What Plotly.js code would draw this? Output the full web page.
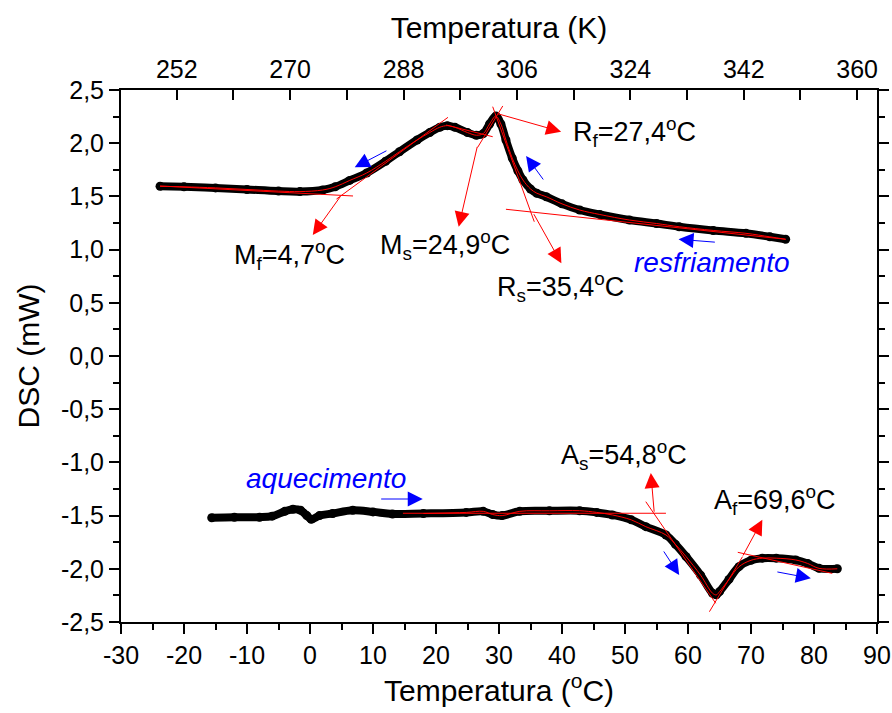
<!DOCTYPE html>
<html>
<head>
<meta charset="utf-8">
<script src="https://cdn.plot.ly/plotly-3.0.1.min.js"></script>
<style>html,body{margin:0;padding:0;background:#fff;}#chart{width:892px;height:713px;}</style>
</head>
<body>
<div id="chart"></div>
<script>
// Cooling curve (resfriamento), temperature in °C and DSC in mW
const coolT = [-23.8,-20,-15,-10,-5,-1.6,2,4,6.3,9,12,14.2,17,19,20.6,21.8,23,25,26.4,27.5,28.5,29.5,30.3,31.1,32.1,33,33.8,35,36,37.5,40,42.8,46,50.7,55,58.6,64,69.2,73,75.5];
const coolV = [1.595,1.59,1.58,1.565,1.55,1.545,1.56,1.59,1.65,1.72,1.83,1.92,2.03,2.10,2.15,2.165,2.15,2.10,2.075,2.09,2.18,2.255,2.18,2.03,1.86,1.74,1.654,1.57,1.53,1.497,1.43,1.372,1.33,1.278,1.245,1.215,1.18,1.153,1.12,1.097];
// Heating curve (aquecimento)
const heatT = [-15.6,-12,-8,-6,-4,-2.7,-1.5,-0.5,0.2,1.5,3.6,6.8,10,13.1,18,24.8,27.5,29,30.5,33.3,38,42.8,45.5,48,51,53.3,56.5,58,59.7,62,63.9,64.5,65,66.5,68.1,70,71.8,74,77.1,79,80.8,83.7];
const heatV = [-1.52,-1.515,-1.515,-1.505,-1.46,-1.44,-1.45,-1.50,-1.535,-1.50,-1.48,-1.45,-1.465,-1.485,-1.48,-1.47,-1.46,-1.49,-1.50,-1.46,-1.455,-1.454,-1.47,-1.494,-1.54,-1.604,-1.682,-1.77,-1.886,-2.06,-2.23,-2.245,-2.215,-2.10,-1.98,-1.92,-1.90,-1.90,-1.917,-1.95,-1.996,-2.0];
const heatFitStart = 14;

// Bottom axis ticks (°C)
const cTickVals = [-30,-20,-10,0,10,20,30,40,50,60,70,80,90];
const cTickText = ['-30','-20','-10','0','10','20','30','40','50','60','70','80','90'];
// Left axis ticks (mW)
const yTickVals = [-2.5,-2,-1.5,-1,-0.5,0,0.5,1,1.5,2,2.5];
const yTickText = ['-2,5','-2,0','-1,5','-1,0','-0,5','0,0','0,5','1,0','1,5','2,0','2,5'];
// Top axis ticks (K)
const kTickVals = [252,261,270,279,288,297,306,315,324,333,342,351,360];
const kTickText = ['252','','270','','288','','306','','324','','342','','360'];

// Tangent construction lines [T1, V1, T2, V2]
const tangents = [
  [-23.8,1.598,6.83,1.504],
  [4.2,1.475,21.9,2.243],
  [21.6,2.171,29.0,2.061],
  [26.6,1.96,30.6,2.35],
  [29.0,2.343,35.6,1.262],
  [31.1,1.379,75.5,1.097],
  [14.75,-1.478,56.5,-1.478],
  [53.3,-1.369,64.4,-2.324],
  [63.4,-2.403,68.65,-1.886],
  [67.9,-1.845,82.9,-2.043]
];

// Labels: [text, T, V]
const labels = [
  ['M<sub>f</sub>=4,7<sup>o</sup>C', -3.2, 0.95],
  ['M<sub>s</sub>=24,9<sup>o</sup>C', 21.5, 1.04],
  ['R<sub>f</sub>=27,4<sup>o</sup>C', 51.5, 2.105],
  ['R<sub>s</sub>=35,4<sup>o</sup>C', 39.8, 0.648],
  ['A<sub>s</sub>=54,8<sup>o</sup>C', 49.9, -0.93],
  ['A<sub>f</sub>=69,6<sup>o</sup>C', 73.8, -1.35]
];
const blueLabels = [
  ['resfriamento', 63.85, 0.883],
  ['aquecimento', 2.5, -1.147]
];
// Red arrows [tailT, tailV, headT, headV]
const redArrows = [
  [4.99,1.513,0.44,1.137],
  [26.6,1.98,23.6,1.215],
  [29.56,2.281,39.86,2.108],
  [35.4,1.347,39.9,0.871],
  [54.65,-1.478,54.1,-1.10],
  [68.6,-1.889,71.8,-1.54]
];
// Blue arrows [tailT, tailV, headT, headV]
const blueArrows = [
  [12.37,1.936,7.1,1.773],
  [37.2,1.645,34.3,1.88],
  [64.5,1.069,58.5,1.097],
  [11.06,-1.344,17.9,-1.344],
  [56.0,-1.823,58.6,-2.058],
  [73.95,-2.027,79.5,-2.089]
];

const FONT = 'Liberation Sans, Arial, sans-serif';
const traces = [];
traces.push({x: coolT, y: coolV, mode: 'lines+markers', line: {color: '#000', width: 8, shape: 'spline'}, marker: {color: '#000', size: 9}, hoverinfo: 'skip', showlegend: false});
traces.push({x: heatT, y: heatV, mode: 'lines+markers', line: {color: '#000', width: 8, shape: 'spline'}, marker: {color: '#000', size: 9}, hoverinfo: 'skip', showlegend: false});
traces.push({x: coolT, y: coolV, mode: 'lines', line: {color: '#ff0000', width: 1, shape: 'spline'}, hoverinfo: 'skip', showlegend: false});
const hfT = [], hfV = [];
heatT.forEach((t, i) => { if (t >= heatFitStart) { hfT.push(t); hfV.push(heatV[i]); } });
traces.push({x: hfT, y: hfV, mode: 'lines', line: {color: '#ff0000', width: 1, shape: 'spline'}, hoverinfo: 'skip', showlegend: false});
tangents.forEach(s => traces.push({x: [s[0], s[2]], y: [s[1], s[3]], mode: 'lines', line: {color: '#ff0000', width: 1}, hoverinfo: 'skip', showlegend: false}));
// invisible trace to activate top axis
traces.push({x: [243.15, 363.15], y: [0, 0], xaxis: 'x2', yaxis: 'y', mode: 'markers', marker: {opacity: 0}, hoverinfo: 'skip', showlegend: false});

const annotations = [];
labels.forEach(l => annotations.push({x: l[1], y: l[2], xref: 'x', yref: 'y', text: l[0], showarrow: false, font: {family: FONT, size: 27, color: '#000'}}));
blueLabels.forEach(l => annotations.push({x: l[1], y: l[2], xref: 'x', yref: 'y', text: '<i>' + l[0] + '</i>', showarrow: false, font: {family: FONT, size: 28, color: '#0000ff'}}));
redArrows.forEach(a => annotations.push({x: a[2], y: a[3], ax: a[0], ay: a[1], xref: 'x', yref: 'y', axref: 'x', ayref: 'y', text: '', showarrow: true, arrowhead: 2, arrowsize: 3, arrowwidth: 1, arrowcolor: '#ff0000'}));
blueArrows.forEach(a => annotations.push({x: a[2], y: a[3], ax: a[0], ay: a[1], xref: 'x', yref: 'y', axref: 'x', ayref: 'y', text: '', showarrow: true, arrowhead: 2, arrowsize: 3, arrowwidth: 1, arrowcolor: '#0000ff'}));

const layout = {
  width: 892, height: 713,
  margin: {l: 121, r: 15, t: 90, b: 91},
  paper_bgcolor: '#fff', plot_bgcolor: '#fff',
  font: {family: FONT, color: '#000'},
  showlegend: false,
  xaxis: {
    range: [-30, 90], tickmode: 'array', tickvals: cTickVals, ticktext: cTickText,
    showgrid: false, zeroline: false,
    showline: true, linecolor: '#000', linewidth: 2,
    ticks: 'outside', ticklen: 10, tickwidth: 2, tickcolor: '#000',
    minor: {tickmode: 'linear', tick0: 0, dtick: 5, ticks: 'outside', ticklen: 6, tickwidth: 2, tickcolor: '#000'},
    tickfont: {size: 25, family: FONT},
    title: {text: 'Temperatura (<sup>o</sup>C)', font: {size: 30, family: FONT}, standoff: 10}
  },
  xaxis2: {
    overlaying: 'x', side: 'top', anchor: 'y',
    range: [243.15, 363.15], tickmode: 'array', tickvals: kTickVals, ticktext: kTickText,
    showgrid: false, zeroline: false, showline: true, linecolor: '#000', linewidth: 2,
    ticks: 'inside', ticklen: 10, tickwidth: 2, tickcolor: '#000',
    tickfont: {size: 25, family: FONT},
    title: {text: 'Temperatura (K)', font: {size: 30, family: FONT}, standoff: 8}
  },
  yaxis: {
    range: [-2.5, 2.5], tickmode: 'array', tickvals: yTickVals, ticktext: yTickText,
    showgrid: false, zeroline: false,
    showline: true, linecolor: '#000', linewidth: 2, mirror: 'ticks',
    ticks: 'outside', ticklen: 10, tickwidth: 2, tickcolor: '#000',
    minor: {tickmode: 'linear', tick0: 0, dtick: 0.25, ticks: 'outside', ticklen: 6, tickwidth: 2, tickcolor: '#000'},
    tickfont: {size: 25, family: FONT},
    title: {text: 'DSC (mW)', font: {size: 30, family: FONT}, standoff: 12}
  },
  annotations: annotations
};

Plotly.newPlot('chart', traces, layout, {staticPlot: true, displayModeBar: false});
</script>
</body>
</html>
